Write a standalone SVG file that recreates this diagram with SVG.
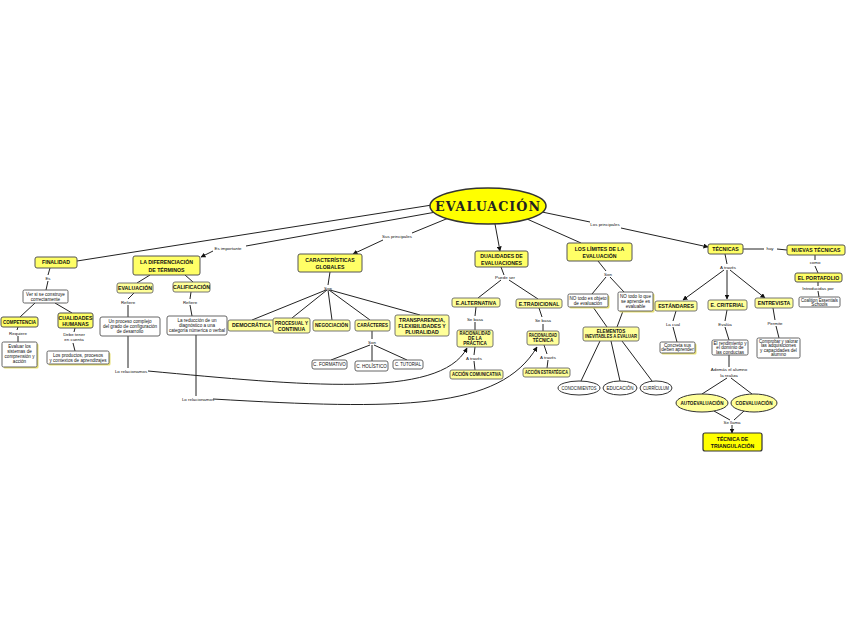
<svg xmlns="http://www.w3.org/2000/svg" width="848" height="638" viewBox="0 0 848 638">
<style>
.y{fill:#ffff66;stroke:#555;stroke-width:1}
.y2{fill:#ffff99;stroke:#666;stroke-width:0.9}
.w{fill:#fff;stroke:#555;stroke-width:0.9}
.sh{fill:#e8e070}
.t{font-family:"Liberation Sans",Arial,sans-serif;font-weight:bold;font-size:5.2px;text-anchor:middle;fill:#111}
.s{font-family:"Liberation Sans",Arial,sans-serif;font-size:4.6px;text-anchor:middle;fill:#111}
.l{font-family:"Liberation Sans",Arial,sans-serif;font-size:4.4px;text-anchor:middle;fill:#111}
.c{fill:none;stroke:#222;stroke-width:1}
</style>
<defs>
<marker id="a" viewBox="0 0 10 10" refX="9" refY="5" markerWidth="5" markerHeight="5" orient="auto"><path d="M0,0L10,5L0,10z" fill="#111"/></marker>
</defs>
<rect width="848" height="638" fill="#fff"/>
<g id="connectors">
<path class="c" d="M432,205L77,261"/>
<path class="c" d="M436,212L246,246"/>
<path class="c" d="M213,251L201,257" marker-end="url(#a)"/>
<path class="c" d="M451,217L412,233"/>
<path class="c" d="M383,240L353,254" marker-end="url(#a)"/>
<path class="c" d="M495,224L500,251" marker-end="url(#a)"/>
<path class="c" d="M527,219L581,243"/>
<path class="c" d="M542,212L590,222"/>
<path class="c" d="M621,228L708,247" marker-end="url(#a)"/>
<path class="c" d="M50,268L48,275M48,281L46,290M35,303L20,317M55,303L72,313M18,327L17,330M18,336L18,342M75,328L74,332M73,343L75,351"/>
<path class="c" d="M150,275L137,283M185,275L193,282M134,293L128,299M128,305L128,317M191,292L190,299M190,305L192,316M128,336L128,368M196,335L196,396"/>
<path class="c" d="M148,371C300,385 440,400 467,348" marker-end="url(#a)"/>
<path class="c" d="M213,399C400,410 500,410 537,347" marker-end="url(#a)"/>
<path class="c" d="M330,272L328,285M326,290L252,320M327,290L292,318M328,290L332,320M329,290L370,320M330,290L420,315M372,331L372,339M370,345L331,360M372,345L372,361M374,345L407,360"/>
<path class="c" d="M501,267L504,275M501,280L478,298M509,280L538,299M476,307L475,316M475,322L475,330M539,308L542,317M543,324L543,331M475,347L474,355M474,361L475,370M544,345L547,354M548,360L547,368"/>
<path class="c" d="M598,261L606,271M606,277L592,294M610,277L624,292M593,307L607,327M623,311L617,327M600,341L581,381M611,341L620,381M622,341L652,381"/>
<path class="c" d="M743,249L764,249M777,249L787,250"/>
<path class="c" d="M725,254L727,264"/>
<path class="c" d="M724,270L683,300" marker-end="url(#a)"/>
<path class="c" d="M727,270L727,299" marker-end="url(#a)"/>
<path class="c" d="M730,270L765,298" marker-end="url(#a)"/>
<path class="c" d="M815,255L815,260M815,266L818,273M818,282L818,286M818,291L819,297"/>
<path class="c" d="M676,311L673,321M673,327L677,342M727,310L725,321M725,327L729,340M773,308L775,320M776,326L779,338"/>
<path class="c" d="M729,355L729,367M727,378L702,394M731,378L752,394M714,411L730,420M744,411L734,420"/>
<path class="c" d="M732,425L732,433" marker-end="url(#a)"/>
</g>
<g id="labels">
<text class="l" x="228" y="250">Es importante</text>
<text class="l" x="397" y="238">Sus principales</text>
<text class="l" x="605" y="226">Los principales</text>
<text class="l" x="770" y="250">hay</text>
<text class="l" x="48" y="279.5">Es</text>
<text class="l" x="18" y="334.5">Requiere</text>
<text class="l" x="74" y="336">Debe tener</text>
<text class="l" x="74" y="341">en cuenta</text>
<text class="l" x="128" y="303.5">Refiere</text>
<text class="l" x="190" y="303.5">Refiere</text>
<text class="l" x="131" y="372.5">Lo relacionamos</text>
<text class="l" x="198" y="400.5">Lo relacionamos</text>
<text class="l" x="328" y="289.5">Son</text>
<text class="l" x="372" y="343.5">Son</text>
<text class="l" x="505" y="279">Puede ser</text>
<text class="l" x="475" y="320.5">Se basa</text>
<text class="l" x="543" y="322">Se basa</text>
<text class="l" x="474" y="359.5">A través</text>
<text class="l" x="548" y="358.5">A través</text>
<text class="l" x="608" y="275.5">Son</text>
<text class="l" x="728" y="268.5">A través</text>
<text class="l" x="673" y="325.5">La cual</text>
<text class="l" x="725" y="325.5">Evalúa</text>
<text class="l" x="775" y="324.5">Permite</text>
<text class="l" x="729" y="371">Además el alumno</text>
<text class="l" x="729" y="376.5">la realiza</text>
<text class="l" x="732" y="424">Se llama</text>
<text class="l" x="815" y="264">como</text>
<text class="l" x="818" y="290">Introducidas por</text>
</g>
<g id="evaluacion">
<ellipse cx="488" cy="206" rx="58" ry="18" fill="#ffff00" stroke="#333" stroke-width="1.5"/>
<text x="488" y="210.5" font-family="DejaVu Serif,serif" font-weight="bold" font-size="12.5" text-anchor="middle" textLength="106" lengthAdjust="spacingAndGlyphs" fill="#222" letter-spacing="1">EVALUACIÓN</text>
</g>
<g id="finalidad"><rect class="y" x="35" y="257" width="42" height="11" rx="2"/><text class="t" x="56" y="264.3">FINALIDAD</text></g>
<g id="versi"><rect class="w" x="23" y="290" width="45" height="13" rx="1.5"/><text class="s" x="45.5" y="295.5">Ver si se construye</text><text class="s" x="45.5" y="301">correctamente</text></g>
<g id="competencia"><rect class="y" x="1" y="317" width="37" height="10" rx="2"/><text class="t" x="19.5" y="323.8" textLength="33" lengthAdjust="spacingAndGlyphs">COMPETENCIA</text></g>
<g id="cualidades"><rect class="y" x="58" y="313" width="35" height="15" rx="2"/><text class="t" x="75.5" y="319.5">CUALIDADES</text><text class="t" x="75.5" y="325.5">HUMANAS</text></g>
<g id="evaluar"><rect class="sh" x="3.5" y="343.5" width="35" height="25" rx="1.5"/><rect class="w" x="2" y="342" width="35" height="25" rx="1.5"/><text class="s" x="19.5" y="348">Evaluar los</text><text class="s" x="19.5" y="353">sistemas de</text><text class="s" x="19.5" y="358">comprensión y</text><text class="s" x="19.5" y="363">acción</text></g>
<g id="productos"><rect class="sh" x="48.5" y="352.5" width="62" height="13" rx="1.5"/><rect class="w" x="47" y="351" width="62" height="13" rx="1.5"/><text class="s" x="78" y="356.5">Los productos, procesos</text><text class="s" x="78" y="362" textLength="57" lengthAdjust="spacingAndGlyphs">y contextos de aprendizajes</text></g>
<g id="diferenciacion"><rect class="y" x="133" y="256" width="67" height="19" rx="2"/><text class="t" x="166.5" y="264" font-size="6.2">LA DIFERENCIACIÓN</text><text class="t" x="166.5" y="271.5" font-size="6.2">DE TÉRMINOS</text></g>
<g id="evaluacion2"><rect class="y2" x="117" y="283" width="36" height="10" rx="2"/><text class="t" x="135" y="289.8">EVALUACIÓN</text></g>
<g id="calificacion"><rect class="y2" x="173" y="282" width="37" height="10" rx="2"/><text class="t" x="191.5" y="288.8">CALIFICACIÓN</text></g>
<g id="proceso"><rect class="w" x="100" y="317" width="60" height="19" rx="2"/><text class="s" x="130" y="322.5">Un proceso complejo</text><text class="s" x="130" y="327.5">del grado de configuración</text><text class="s" x="130" y="332.5">de desarrollo</text></g>
<g id="reduccion"><rect class="w" x="167" y="316" width="60" height="19" rx="2"/><text class="s" x="197" y="321.5">La reducción de un</text><text class="s" x="197" y="326.5">diagnóstico a una</text><text class="s" x="197" y="331.5" textLength="56" lengthAdjust="spacingAndGlyphs">categoría númerica o verbal</text></g>
<g id="caracteristicas"><rect class="y" x="298" y="254" width="64" height="18" rx="2"/><text class="t" x="330" y="261.5" font-size="6.2">CARACTERÍSTICAS</text><text class="t" x="330" y="269" font-size="6.2">GLOBALES</text></g>
<g id="democratica"><rect class="y2" x="228" y="320" width="47" height="11" rx="2"/><text class="t" x="251.5" y="327.3">DEMOCRÁTICA</text></g>
<g id="procesual"><rect class="y2" x="273" y="318" width="37" height="15" rx="2"/><text class="t" x="291.5" y="324.5" textLength="33" lengthAdjust="spacingAndGlyphs">PROCESUAL Y</text><text class="t" x="291.5" y="330.5">CONTINUA</text></g>
<g id="negociacion"><rect class="y2" x="313" y="320" width="37" height="11" rx="2"/><text class="t" x="331.5" y="327.3" textLength="33" lengthAdjust="spacingAndGlyphs">NEGOCIACIÓN</text></g>
<g id="caracteres"><rect class="y2" x="355" y="320" width="35" height="11" rx="2"/><text class="t" x="372.5" y="327.3" textLength="31" lengthAdjust="spacingAndGlyphs">CARÁCTERES</text></g>
<g id="transparencia"><rect class="y2" x="395" y="315" width="54" height="21" rx="2"/><text class="t" x="422" y="321.5">TRANSPARENCIA,</text><text class="t" x="422" y="327.5">FLEXIBILIDADES Y</text><text class="t" x="422" y="333.5">PLURALIDAD</text></g>
<g id="cformativo"><rect class="w" x="312" y="360" width="35" height="9" rx="2"/><text class="s" x="329.5" y="366.3">C. FORMATIVO</text></g>
<g id="cholistico"><rect class="w" x="355" y="361" width="33" height="10" rx="2"/><text class="s" x="371.5" y="367.8">C. HOLÍSTICO</text></g>
<g id="ctutorial"><rect class="w" x="393" y="360" width="30" height="9" rx="2"/><text class="s" x="408" y="366.3" textLength="26" lengthAdjust="spacingAndGlyphs">C. TUTORIAL</text></g>
<g id="dualidades"><rect class="y" x="475" y="251" width="53" height="16" rx="2"/><text class="t" x="501.5" y="258" font-size="6">DUALIDADES DE</text><text class="t" x="501.5" y="265" font-size="6">EVALUACIONES</text></g>
<g id="ealternativa"><rect class="y2" x="452" y="298" width="48" height="9" rx="2"/><text class="t" x="476" y="304.5">E.ALTERNATIVA</text></g>
<g id="etradicional"><rect class="y2" x="516" y="299" width="46" height="9" rx="2"/><text class="t" x="539" y="305.5">E.TRADICIONAL</text></g>
<g id="racpractica"><rect class="y2" x="457" y="330" width="36" height="17" rx="2"/><text class="s" x="475" y="335.3" font-weight="bold" textLength="31" lengthAdjust="spacingAndGlyphs">RACIONALIDAD</text><text class="s" x="475" y="340" font-weight="bold">DE LA</text><text class="s" x="475" y="344.7" font-weight="bold">PRÁCTICA</text></g>
<g id="ractecnica"><rect class="y2" x="527" y="331" width="32" height="14" rx="2"/><text class="s" x="543" y="337" font-weight="bold" textLength="28" lengthAdjust="spacingAndGlyphs">RACIONALIDAD</text><text class="s" x="543" y="342" font-weight="bold">TÉCNICA</text></g>
<g id="comunicativa"><rect class="y2" x="450" y="370" width="53" height="9" rx="2"/><text class="s" x="476.5" y="376.3" font-weight="bold" textLength="49" lengthAdjust="spacingAndGlyphs">ACCIÓN COMUNICATIVA</text></g>
<g id="estrategica"><rect class="y2" x="523" y="368" width="47" height="9" rx="2"/><text class="s" x="546.5" y="374.3" font-weight="bold" textLength="43" lengthAdjust="spacingAndGlyphs">ACCIÓN ESTRATÉGICA</text></g>
<g id="limites"><rect class="y" x="567" y="243" width="65" height="18" rx="2"/><text class="t" x="599.5" y="250.5" font-size="6">LOS LÍMITES DE LA</text><text class="t" x="599.5" y="258" font-size="6">EVALUACIÓN</text></g>
<g id="notodo1"><rect class="sh" x="569.5" y="295.5" width="40" height="13" rx="1.5"/><rect class="w" x="568" y="294" width="40" height="13" rx="1.5"/><text class="s" x="588" y="299.5">NO todo es objeto</text><text class="s" x="588" y="305">de evaluación</text></g>
<g id="notodo2"><rect class="sh" x="619.5" y="293.5" width="35" height="19" rx="1.5"/><rect class="w" x="618" y="292" width="35" height="19" rx="1.5"/><text class="s" x="635.5" y="297.5">NO todo lo que</text><text class="s" x="635.5" y="302.5">se aprende es</text><text class="s" x="635.5" y="307.5">evaluable</text></g>
<g id="elementos"><rect class="y2" x="583" y="327" width="56" height="14" rx="2"/><text class="s" x="611" y="332.8" font-weight="bold">ELEMENTOS</text><text class="s" x="611" y="338.3" font-weight="bold" textLength="52" lengthAdjust="spacingAndGlyphs">INEVITABLES A EVALUAR</text></g>
<g id="conocimientos"><ellipse cx="579" cy="388" rx="21" ry="7" fill="#fff" stroke="#333" stroke-width="1"/><text class="s" x="579" y="389.7" textLength="35" lengthAdjust="spacingAndGlyphs">CONOCIMIENTOS</text></g>
<g id="educacion"><ellipse cx="620" cy="388" rx="17" ry="7" fill="#fff" stroke="#333" stroke-width="1"/><text class="s" x="620" y="389.7" textLength="27" lengthAdjust="spacingAndGlyphs">EDUCACIÓN</text></g>
<g id="curriculum"><ellipse cx="656" cy="388" rx="16" ry="7" fill="#fff" stroke="#333" stroke-width="1"/><text class="s" x="656" y="389.7" textLength="26" lengthAdjust="spacingAndGlyphs">CURRÍCULUM</text></g>
<g id="tecnicas"><rect class="y" x="708" y="244" width="35" height="10" rx="2"/><text class="t" x="725.5" y="251">TÉCNICAS</text></g>
<g id="nuevas"><rect class="y" x="787" y="245" width="58" height="10" rx="2"/><text class="t" x="816" y="252">NUEVAS TÉCNICAS</text></g>
<g id="portafolio"><rect class="y" x="795" y="273" width="47" height="9" rx="2"/><text class="t" x="818.5" y="279.6">EL PORTAFOLIO</text></g>
<g id="coalition"><rect class="w" x="799" y="297" width="41" height="10" rx="1.5"/><text class="s" x="819.5" y="301.5" textLength="37" lengthAdjust="spacingAndGlyphs">Coalition Essentials</text><text class="s" x="819.5" y="306">Schools</text></g>
<g id="estandares"><rect class="y2" x="655" y="301" width="42" height="10" rx="2"/><text class="t" x="676" y="308">ESTÁNDARES</text></g>
<g id="ecriterial"><rect class="y2" x="708" y="300" width="39" height="10" rx="2"/><text class="t" x="727.5" y="307">E. CRITERIAL</text></g>
<g id="entrevista"><rect class="y2" x="755" y="298" width="38" height="10" rx="2"/><text class="t" x="774" y="305">ENTREVISTA</text></g>
<g id="concreta"><rect class="sh" x="661.5" y="343.5" width="35" height="11" rx="1.5"/><rect class="w" x="660" y="342" width="35" height="11" rx="1.5"/><text class="s" x="677.5" y="346.8">Concreta sus</text><text class="s" x="677.5" y="351.3">deben aprender</text></g>
<g id="rendimiento"><rect class="w" x="712" y="340" width="36" height="15" rx="1.5"/><text class="s" x="730" y="344.8">El rendimiento y</text><text class="s" x="730" y="349.3">el dominio de</text><text class="s" x="730" y="353.8">las conductas</text></g>
<g id="comprobar"><rect class="w" x="757" y="338" width="43" height="20" rx="1.5"/><text class="s" x="778.5" y="342.8" textLength="39" lengthAdjust="spacingAndGlyphs">Comprobar y valorar</text><text class="s" x="778.5" y="347.3">las adquisiciones</text><text class="s" x="778.5" y="351.8">y capacidades del</text><text class="s" x="778.5" y="356.3">alumno</text></g>
<g id="autoevaluacion"><ellipse cx="702" cy="403" rx="26" ry="9" fill="#ffff99" stroke="#333" stroke-width="1"/><text class="s" x="702" y="404.8" font-weight="bold">AUTOEVALUACIÓN</text></g>
<g id="coevaluacion"><ellipse cx="754" cy="403" rx="23" ry="9" fill="#ffff99" stroke="#333" stroke-width="1"/><text class="s" x="754" y="404.8" font-weight="bold">COEVALUACIÓN</text></g>
<g id="triangulacion"><rect x="703" y="433" width="59" height="18" rx="2" fill="#ffff00" stroke="#333" stroke-width="1.2"/><text class="t" x="732.5" y="440.5" font-size="6.2">TÉCNICA DE</text><text class="t" x="732.5" y="448" font-size="6.2">TRIANGULACIÓN</text></g>
</svg>
